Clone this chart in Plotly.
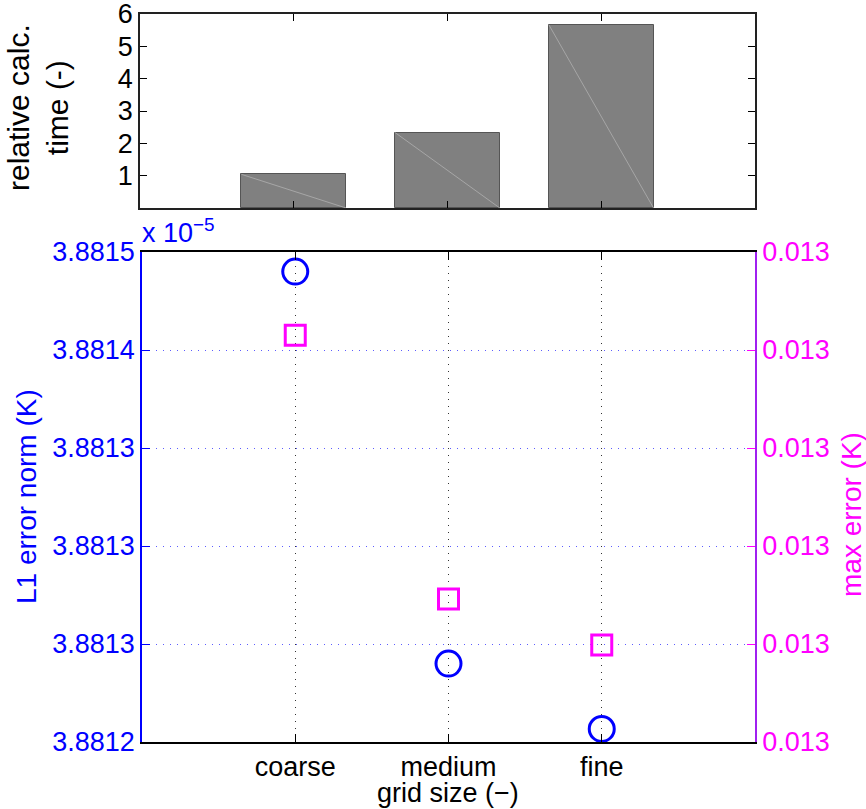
import plotly.graph_objects as go

# ---- data ----
GRID_LABELS = ["coarse", "medium", "fine"]
GRID_POS = [1, 2, 3]

# relative calculation time (-)
REL_TIME = [1.04, 2.33, 5.66]

# L1 error norm in units of 1e-5 K
L1_NORM_E5 = [3.881488, 3.881248, 3.881208]
# max error (K)
MAX_ERR = [0.0134915, 0.0134646, 0.0134599]

# tick definitions
TIME_TICKS = [1, 2, 3, 4, 5, 6]
L1_TICKVALS = [3.88120, 3.88126, 3.88132, 3.88138, 3.88144, 3.88150]
L1_TICKTEXT = ["3.8812", "3.8813", "3.8813", "3.8813", "3.8814", "3.8815"]
MAX_TICKVALS = [0.013450, 0.013460, 0.013470, 0.013480, 0.013490, 0.013500]
MAX_TICKTEXT = ["0.013", "0.013", "0.013", "0.013", "0.013", "0.013"]

# ---- styling ----
W, H = 866, 809
FONT = "Liberation Sans, Arial, Helvetica, sans-serif"
BLUE = "#0000ff"
MAGENTA = "#ff00ff"
BAR_WIDTH = 0.68
TICK_FS = 27
TITLE_FS = 28
DOTS = "1px,6px"


def px_x(p):
    return p / W


def px_y(p):
    return (H - p) / H


fig = go.Figure()

# bar chart of relative calculation time
fig.add_trace(go.Bar(
    x=GRID_POS, y=REL_TIME, width=BAR_WIDTH,
    marker=dict(color="#808080", line=dict(color="#555555", width=1)),
    xaxis="x2", yaxis="y3", showlegend=False, hoverinfo="skip",
))
# faint patch diagonal inside each bar
for c, h in zip(GRID_POS, REL_TIME):
    fig.add_trace(go.Scatter(
        x=[c - BAR_WIDTH / 2, c + BAR_WIDTH / 2], y=[h, 0],
        mode="lines", line=dict(color="#a6a6a6", width=1),
        xaxis="x2", yaxis="y3", showlegend=False, hoverinfo="skip",
    ))

# L1 error norm (left axis)
fig.add_trace(go.Scatter(
    x=GRID_POS, y=L1_NORM_E5, mode="markers",
    marker=dict(symbol="circle-open", size=25, color=BLUE,
                line=dict(color=BLUE, width=3)),
    xaxis="x", yaxis="y", showlegend=False,
))
# max error (right axis)
fig.add_trace(go.Scatter(
    x=GRID_POS, y=MAX_ERR, mode="markers",
    marker=dict(symbol="square-open", size=20, color=MAGENTA,
                line=dict(color=MAGENTA, width=3)),
    xaxis="x", yaxis="y2", showlegend=False,
))

bottom_dom_x = [px_x(142), px_x(755)]
bottom_dom_y = [px_y(742), px_y(252)]
top_dom_x = [px_x(140), px_x(755)]
top_dom_y = [px_y(208), px_y(14)]

fig.update_layout(
    width=W, height=H,
    margin=dict(l=0, r=0, t=0, b=0, pad=0),
    paper_bgcolor="white", plot_bgcolor="white",
    font=dict(family=FONT, size=TICK_FS, color="black"),
    bargap=0,
    xaxis=dict(
        domain=bottom_dom_x, range=[0, 4], anchor="y", automargin=False,
        tickmode="array", tickvals=GRID_POS, ticktext=GRID_LABELS,
        ticks="inside", ticklen=8, tickcolor="black",
        showline=True, linecolor="black", linewidth=1.5, mirror="ticks",
        showgrid=True, gridcolor="#333333", griddash=DOTS, gridwidth=1,
        zeroline=False, tickfont=dict(size=TICK_FS, color="black"),
        ticklabeloverflow="allow",
    ),
    yaxis=dict(
        domain=bottom_dom_y, range=[L1_TICKVALS[0], L1_TICKVALS[-1]],
        anchor="x", automargin=False,
        tickmode="array", tickvals=L1_TICKVALS, ticktext=L1_TICKTEXT,
        ticks="inside", ticklen=8, tickcolor=BLUE,
        showline=True, linecolor=BLUE, linewidth=1.5,
        showgrid=True, gridcolor="#5c5cff", griddash=DOTS, gridwidth=1,
        zeroline=False, tickfont=dict(size=TICK_FS, color=BLUE),
        ticklabeloverflow="allow",
    ),
    yaxis2=dict(
        overlaying="y", side="right", anchor="x", automargin=False,
        range=[MAX_TICKVALS[0], MAX_TICKVALS[-1]],
        tickmode="array", tickvals=MAX_TICKVALS, ticktext=MAX_TICKTEXT,
        ticks="inside", ticklen=8, tickcolor=MAGENTA,
        showline=True, linecolor="#a020f0", linewidth=1.5,
        showgrid=False, zeroline=False,
        tickfont=dict(size=TICK_FS, color=MAGENTA),
        ticklabeloverflow="allow",
    ),
    xaxis2=dict(
        domain=top_dom_x, range=[0, 4], anchor="y3", automargin=False,
        tickmode="array", tickvals=GRID_POS, showticklabels=False,
        ticks="inside", ticklen=7, tickcolor="black",
        showline=True, linecolor="#222222", linewidth=1.5, mirror="ticks",
        showgrid=False, zeroline=False,
    ),
    yaxis3=dict(
        domain=top_dom_y, range=[0, 6], anchor="x2", automargin=False,
        tickmode="array", tickvals=TIME_TICKS,
        ticks="inside", ticklen=7, tickcolor="black",
        showline=True, linecolor="#222222", linewidth=1.5, mirror="ticks",
        showgrid=False, zeroline=False,
        tickfont=dict(size=TICK_FS, color="black"),
        ticklabeloverflow="allow",
    ),
    annotations=[
        dict(text="x 10<sup>\u22125</sup>", xref="paper", yref="paper",
             x=px_x(140), y=px_y(250), xanchor="left", yanchor="bottom",
             showarrow=False, font=dict(size=TICK_FS, color=BLUE)),
        dict(text="L1 error norm (K)", xref="paper", yref="paper",
             x=px_x(26), y=px_y(497), xanchor="center", yanchor="middle",
             textangle=-90, showarrow=False,
             font=dict(size=TITLE_FS, color=BLUE)),
        dict(text="max error (K)", xref="paper", yref="paper",
             x=px_x(851), y=px_y(515), xanchor="center", yanchor="middle",
             textangle=-90, showarrow=False,
             font=dict(size=TITLE_FS, color=MAGENTA)),
        dict(text="relative calc.<br>time (-)", xref="paper", yref="paper",
             x=px_x(38), y=px_y(108), xanchor="center", yanchor="middle",
             textangle=-90, showarrow=False,
             font=dict(size=30, color="black")),
        dict(text="grid size (\u2212)", xref="paper", yref="paper",
             x=px_x(448), y=px_y(793), xanchor="center", yanchor="middle",
             showarrow=False, font=dict(size=27, color="black")),
    ],
)

fig.write_html("out.html")
